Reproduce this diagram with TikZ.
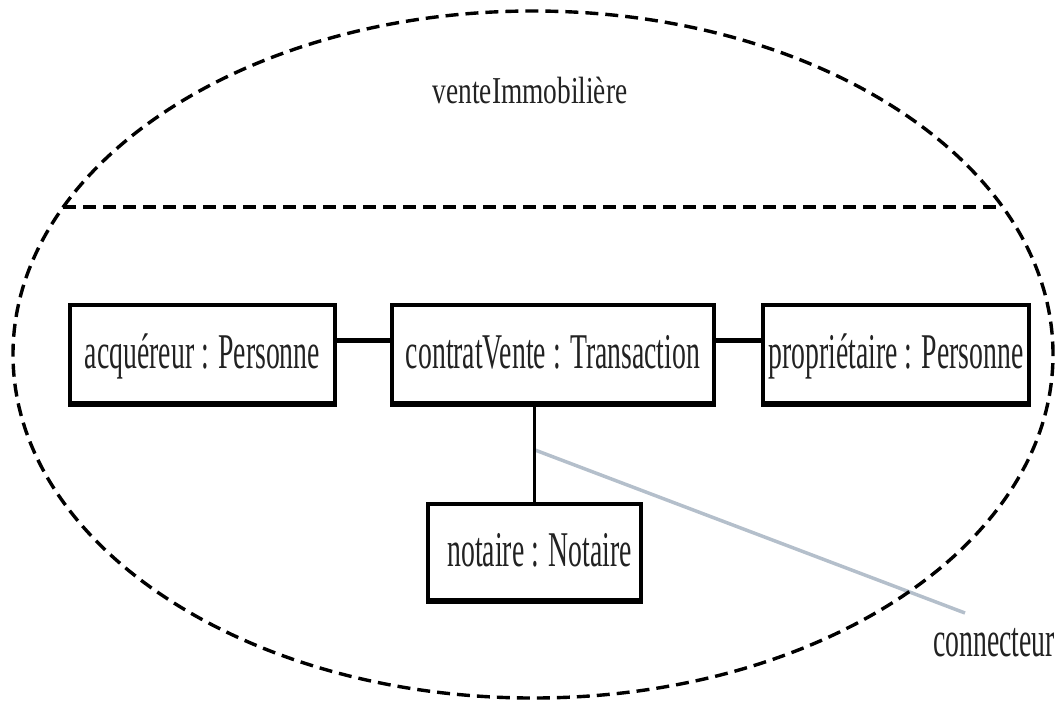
\documentclass[tikz,border=0pt]{standalone}
\usepackage{fontspec}
\setmainfont{Liberation Serif}
\newfontfamily\boxfont[FakeStretch=0.555]{Liberation Serif}
\newfontfamily\titlefont[FakeStretch=0.72]{Liberation Serif}
\usetikzlibrary{calc}
\definecolor{connGray}{HTML}{B4BFCB}
\definecolor{inkText}{HTML}{222222}
\begin{document}
\begin{tikzpicture}[x=1pt,y=-1pt,
  obj/.style={draw=black, line width=4pt, rectangle, inner sep=0pt, outer sep=0pt,
    font=\boxfont\fontsize{50}{54}\selectfont, text=inkText,
    text height=34pt, text depth=5pt, minimum height=98pt},
  objbottom/.style={line width=4pt, shorten <=-2pt, shorten >=-2pt},
  link/.style={line width=5pt},
  vlink/.style={line width=3.5pt},
  frame/.style={line width=3.4pt, dash pattern=on 13pt off 7pt},
  note/.style={connGray, line width=3.5pt},
  lbl/.style={font=\boxfont\fontsize{50}{54}\selectfont, text=inkText, inner sep=0pt}
]
\useasboundingbox (0,0) rectangle (1059,702);

% boxes
\node[obj, minimum width=265pt] (acq) at (202.5,354) {acquéreur : Personne};
\node[obj, minimum width=322pt] (ctr) at (553,354) {contratVente : Transaction};
\node[obj, minimum width=266pt] (prop) at (896,354) {propriétaire : Personne};
\node[obj, minimum width=213pt, minimum height=96pt] (not) at (534.5,552) {\hspace*{10pt}notaire : Notaire};

% thicker bottom edges
\foreach \b in {acq,ctr,prop,not}{
  \draw[objbottom] ([yshift=-2pt]\b.south west) -- ([yshift=-2pt]\b.south east);
}

% connector annotation (gray)
\coordinate (cstart) at (535,450);
\coordinate (cend) at (965,613);
\draw[note] (cstart) -- (cend);

% connectors
\draw[link] ([yshift=14pt]acq.east) -- ([yshift=14pt]ctr.west);
\draw[link] ([yshift=14pt]ctr.east) -- ([yshift=14pt]prop.west);
\draw[vlink] (not.north) -- (not.north |- ctr.south);

% collaboration ellipse
\draw[frame] (533,354.5) ellipse [x radius=520pt, y radius=343.5pt];
\coordinate (sepL) at (63,207);
\coordinate (sepR) at (1003,207);
\draw[frame] (sepL) -- (sepR);

% labels
\node[font=\titlefont\fontsize{38}{42}\selectfont, text=inkText, anchor=base, inner sep=0pt] (title) at (530,103) {venteImmobilière};
\node[lbl, anchor=base] (clabel) at (994,656) {connecteur};
\end{tikzpicture}
\end{document}
